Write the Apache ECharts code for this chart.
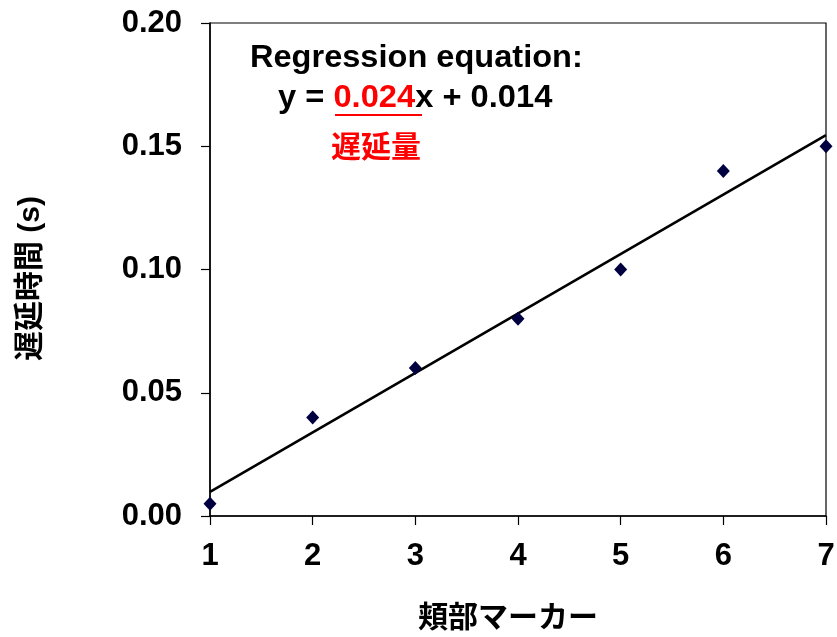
<!DOCTYPE html>
<html>
<head>
<meta charset="utf-8">
<script src="https://cdn.jsdelivr.net/npm/echarts@6/dist/echarts.min.js"></script>
<style>
  html, body { margin: 0; padding: 0; background: #fff; }
  #chart { width: 837px; height: 637px; }
</style>
</head>
<body>
<div id="chart"></div>
<script>
// Measured delay for each cheek-marker position
const markers = [1, 2, 3, 4, 5, 6, 7];
const delays = [0.005, 0.04, 0.06, 0.08, 0.10, 0.14, 0.15];
const yTicks = [0, 0.05, 0.10, 0.15, 0.20];

// Least-squares fit through the measured points
function fit(xs, ys) {
  const n = xs.length;
  const mx = xs.reduce((a, b) => a + b, 0) / n;
  const my = ys.reduce((a, b) => a + b, 0) / n;
  let sxy = 0, sxx = 0;
  for (let i = 0; i < n; i++) {
    sxy += (xs[i] - mx) * (ys[i] - my);
    sxx += (xs[i] - mx) * (xs[i] - mx);
  }
  const slope = sxy / sxx;
  return { slope, intercept: my - slope * mx };
}
const reg = fit(markers, delays);
const xFirst = markers[0], xLast = markers[markers.length - 1];
const fitLine = [
  [xFirst, reg.slope * xFirst + reg.intercept],
  [xLast, reg.slope * xLast + reg.intercept]
];

const FONT = '"Liberation Sans", Arial, "Noto Sans CJK JP", sans-serif';
const chart = echarts.init(document.getElementById('chart'));

chart.setOption({
  backgroundColor: '#ffffff',
  animation: false,
  grid: {
    left: 210, right: 11, top: 23, bottom: 121,
    outerBoundsMode: 'none',
    containLabel: false,
    show: true, borderColor: '#000', borderWidth: 1.2, backgroundColor: 'transparent'
  },
  xAxis: {
    type: 'value',
    min: 1, max: 7, interval: 1,
    name: '頬部マーカー',
    nameLocation: 'middle',
    nameGap: 88,
    nameTextStyle: { fontFamily: FONT, fontWeight: 'bold', fontSize: 30, color: '#000', padding: [0, 20, 0, 0] },
    axisLine: { show: true, onZero: false, lineStyle: { color: '#000', width: 1.5 } },
    axisTick: { show: true, length: 9, lineStyle: { color: '#000', width: 1.2 } },
    axisLabel: { margin: 25, fontFamily: FONT, fontWeight: 'bold', fontSize: 31, color: '#000' },
    splitLine: { show: false }
  },
  yAxis: {
    type: 'value',
    min: yTicks[0], max: yTicks[yTicks.length - 1], interval: 0.05,
    name: '遅延時間 (s)',
    nameLocation: 'middle',
    nameGap: 164,
    nameTextStyle: { fontFamily: FONT, fontWeight: 'bold', fontSize: 30, color: '#000', padding: [0, 18, 0, 0] },
    axisLine: { show: true, onZero: false, lineStyle: { color: '#000', width: 1.5 } },
    axisTick: { show: true, length: 9, lineStyle: { color: '#000', width: 1.2 } },
    axisLabel: {
      margin: 28, fontFamily: FONT, fontWeight: 'bold', fontSize: 31, color: '#000',
      formatter: v => v.toFixed(2)
    },
    splitLine: { show: false }
  },
  series: [
    {
      type: 'line',
      data: fitLine,
      showSymbol: false,
      symbol: 'none',
      lineStyle: { color: '#000', width: 2.6 },
      z: 2
    },
    {
      type: 'scatter',
      data: markers.map((m, i) => [m, delays[i]]),
      symbol: 'diamond',
      symbolSize: [13, 14],
      itemStyle: { color: '#000040', opacity: 1 },
      z: 3
    }
  ],
  graphic: [
    {
      type: 'text', x: 250, y: 43, scaleX: 1.05,
      style: {
        text: 'Regression equation:', font: 'bold 31px ' + FONT, fill: '#000',
        align: 'left', verticalAlign: 'top'
      }
    },
    {
      type: 'text', x: 278, y: 83, scaleX: 1.054,
      style: {
        text: '{k|y = }{r|0.024}{k|x + 0.014}',
        align: 'left', verticalAlign: 'top',
        rich: {
          k: { font: 'bold 31px ' + FONT, fill: '#000' },
          r: { font: 'bold 31px ' + FONT, fill: '#ff0000' }
        }
      }
    },
    {
      type: 'line', shape: { x1: 335, y1: 115, x2: 422, y2: 115 },
      style: { stroke: '#ff0000', lineWidth: 2 }
    },
    {
      type: 'text', x: 331, y: 134,
      style: {
        text: '遅延量', font: 'bold 30px ' + FONT, fill: '#ff0000',
        align: 'left', verticalAlign: 'top'
      }
    }
  ]
});
</script>
</body>
</html>
